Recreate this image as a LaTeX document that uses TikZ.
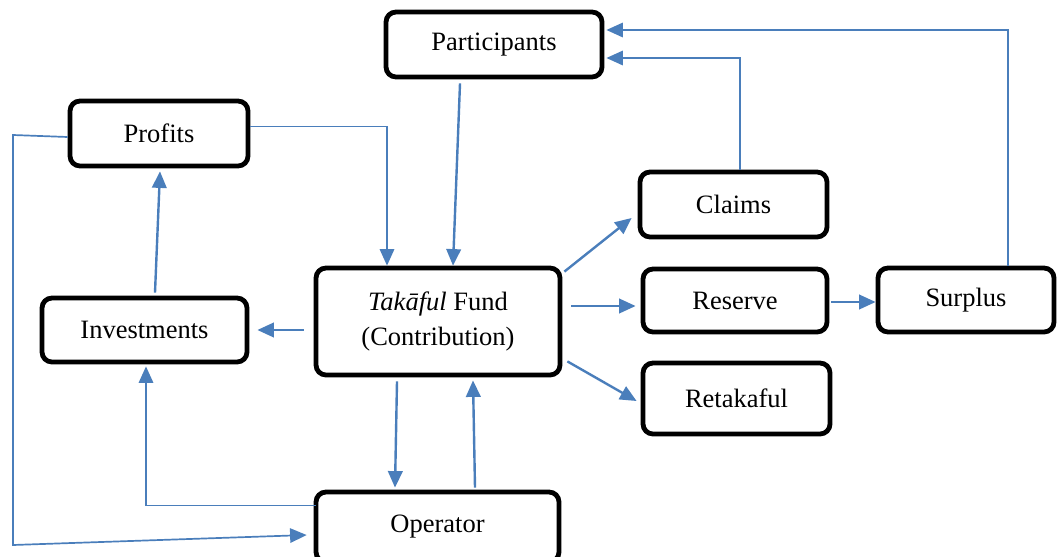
\documentclass[tikz,border=0pt]{standalone}
\usepackage{fontspec}
\setmainfont{Liberation Serif}
\usetikzlibrary{arrows.meta,calc}
\definecolor{flow}{HTML}{4A7EBB}
\begin{document}
\begin{tikzpicture}[x=1pt,y=-1pt,
  box/.style={draw=black, line width=4.8pt, rounded corners=10pt, fill=white,
    inner sep=0pt, align=center, font=\fontsize{26.5}{35}\selectfont},
  flowhead/.style={-{Triangle[length=16.5pt,width=14.5pt]}},
  flowline/.style={draw=flow, line width=2.4pt, flowhead},
  elbowline/.style={draw=flow, line width=1.7pt, flowhead}]
\useasboundingbox (0,0) rectangle (1058,557);

% boxes
\node[box, minimum width=216pt, minimum height=65pt] (part) at (494,44.5) {Participants};
\node[box, minimum width=178pt, minimum height=65pt] (prof) at (159,133.5) {Profits};
\node[box, minimum width=187pt, minimum height=65pt] (claims) at (733.5,204.5) {Claims};
\node[box, minimum width=244pt, minimum height=107pt] (tak) at (438,321.5) {\textit{Takāful} Fund\\(Contribution)};
\node[box, minimum width=205pt, minimum height=64pt] (inv) at (144.5,330) {Investments};
\node[box, minimum width=243pt, minimum height=70pt] (oper) at (437.5,527) {Operator};
\node[box, minimum width=184pt, minimum height=63pt] (res) at (735,300.5) {Reserve};
\node[box, minimum width=176pt, minimum height=64pt] (sur) at (966,300) {Surplus};
\node[box, minimum width=187pt, minimum height=71pt] (ret) at (736.5,398.5) {Retakaful};

% corners of the outer loop from Profits to Operator
\coordinate (loopTop) at (13,135);
\coordinate (loopBot) at (13,545);

% flows into the fund
\draw[flowline] ($(part.south)+(-34,4)$) -- ($(tak.north)+(15,0)$);
\draw[elbowline] ($(prof.east)+(0,-7)$) -| ($(tak.north)+(-51,0)$);

% fund, investments and profits
\draw[flowline] ($(tak.west)+(-10,8.5)$) -- ($(inv.east)+(8,0)$);
\draw[flowline] ($(inv.north)+(10.5,-3)$) -- ($(prof.south)+(1,3)$);

% fund and operator
\draw[flowline] ($(tak.south)+(-41,4)$) -- ($(oper.north)+(-42.5,-2)$);
\draw[flowline] ($(oper.north)+(37.5,-2)$) -- ($(tak.south)+(35,3)$);
\draw[elbowline] ($(oper.north west)+(2,16)$) -| ($(inv.south)+(1.5,2)$);
\draw[elbowline] ($(prof.west)+(0,3.5)$) -- (loopTop) -- (loopBot) -- ($(oper.west)+(-7,8)$);

% outflows of the fund
\draw[flowline] ($(tak.north east)+(2,6)$) -- ($(claims.west)+(-6,13.5)$);
\draw[flowline] ($(tak.east)+(9,-15.5)$) -- ($(res.west)+(-5,5.5)$);
\draw[flowline] ($(tak.south east)+(5,-16)$) -- ($(ret.west)+(-4,2.5)$);
\draw[flowline] ($(res.east)+(2,1.5)$) -- ($(sur.west)+(0,2)$);

% returns to the participants
\draw[elbowline] ($(claims.north)+(6.5,0)$) |- ($(part.east)+(2,13.5)$);
\draw[elbowline] ($(sur.north)+(42,0)$) |- ($(part.east)+(2,-14.5)$);
\end{tikzpicture}
\end{document}
